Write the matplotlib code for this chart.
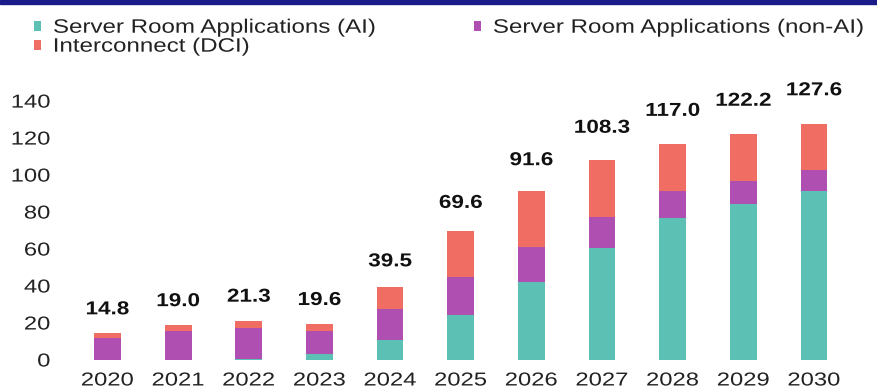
import matplotlib.pyplot as plt
from matplotlib.patches import Rectangle
from matplotlib.patheffects import AbstractPathEffect
from matplotlib.transforms import Affine2D

plt.rcParams['font.family'] = ['Liberation Sans', 'DejaVu Sans']

years = ['2020', '2021', '2022', '2023', '2024', '2025', '2026', '2027', '2028', '2029', '2030']
ai = [0.0, 0.0, 0.8, 3.1, 10.8, 24.3, 42.3, 60.7, 76.9, 84.1, 91.4]
non_ai = [12.0, 15.5, 16.5, 12.7, 16.7, 20.7, 19.0, 16.4, 14.6, 12.8, 11.3]
dci = [2.8, 3.5, 4.0, 3.8, 12.0, 24.6, 30.3, 31.2, 25.5, 25.3, 24.9]
totals = [14.8, 19.0, 21.3, 19.6, 39.5, 69.6, 91.6, 108.3, 117.0, 122.2, 127.6]

c_ai = '#5cc0b5'
c_non = '#b04fb2'
c_dci = '#ef6d63'


class Stretch(AbstractPathEffect):
    # widen glyphs horizontally (the source image is stretched sideways)
    def __init__(self, sx, anchor=0.5):
        super().__init__()
        self.sx = sx
        self.anchor = anchor

    def draw_path(self, renderer, gc, tpath, affine, rgbFace=None):
        ext = tpath.get_extents()
        cx = ext.x0 + self.anchor * ext.width
        t = Affine2D().translate(-cx, 0).scale(self.sx, 1).translate(cx, 0) + affine
        renderer.draw_path(gc, tpath, t, rgbFace)


W, H = 878, 389
fig = plt.figure(figsize=(W / 100, H / 100), dpi=100)
# axes placed in pixel terms
left, right, top, bottom = 60, 850, 80, 360
ax = fig.add_axes([left / W, 1 - bottom / H, (right - left) / W, (bottom - top) / H])

x = list(range(len(years)))
w = 0.38
b1 = ax.bar(x, ai, w, color=c_ai, label='Server Room Applications (AI)')
b2 = ax.bar(x, non_ai, w, bottom=ai, color=c_non, label='Server Room Applications (non-AI)')
bot3 = [a + b for a, b in zip(ai, non_ai)]
b3 = ax.bar(x, dci, w, bottom=bot3, color=c_dci, label='Interconnect (DCI)')

for i, t in enumerate(totals):
    ax.text(i, t + 7 + 0.05 * t, f"{t:.1f}", ha='center', va='bottom',
            fontsize=13.5, fontweight='bold', color='#111111',
            path_effects=[Stretch(1.2, 0.5)])

ax.set_xlim(-0.672, 10.51)
ax.set_ylim(0, 151.4)
ax.set_yticks(range(0, 141, 20))
ax.set_xticks(x)
ax.set_xticklabels(years)
ax.tick_params(axis='both', length=0, labelsize=13.5, colors='#222222')
ax.tick_params(axis='x', pad=9)
ax.tick_params(axis='y', pad=7)
for lbl in ax.get_xticklabels():
    lbl.set_path_effects([Stretch(1.27, 0.5)])
for lbl in ax.get_yticklabels():
    lbl.set_path_effects([Stretch(1.27, 1.0)])
for s in ax.spines.values():
    s.set_visible(False)

leg = fig.legend([b1, b3, b2], ['Server Room Applications (AI)', 'Interconnect (DCI)',
                                'Server Room Applications (non-AI)'],
                 ncol=2, loc='upper left', bbox_to_anchor=(24 / W, 1 - 10 / H),
                 frameon=False, fontsize=14, handlelength=0.4, handleheight=0.4,
                 handletextpad=0.6, columnspacing=8.15, labelspacing=0.1, borderpad=0,
                 labelcolor='#222222')
for txt in leg.get_texts():
    txt.set_path_effects([Stretch(1.24, 0.0)])

# dark blue strip along the top edge
fig.patches.append(Rectangle((0, 1 - 4 / H), 1, 4 / H, transform=fig.transFigure,
                             color='#1b1b8a', zorder=10))

fig.savefig('out.png', dpi=100)
